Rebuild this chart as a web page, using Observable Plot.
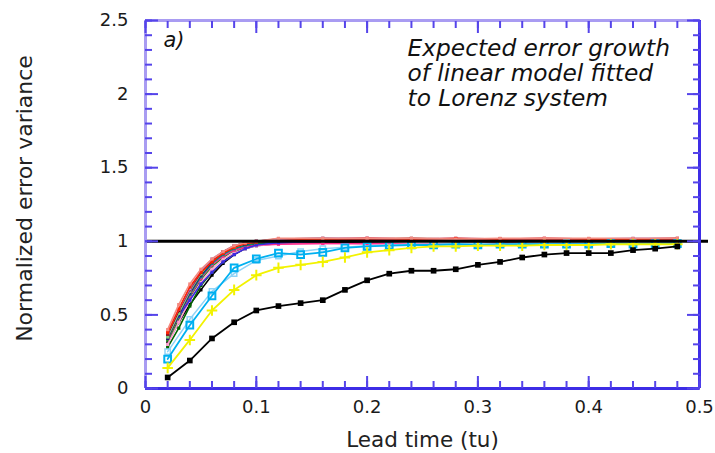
<!DOCTYPE html>
<html><head><meta charset="utf-8">
<script src="https://cdn.jsdelivr.net/npm/d3@7"></script>
<script src="https://cdn.jsdelivr.net/npm/@observablehq/plot@0.6"></script>
<style>body{margin:0;background:#fff;} #chart svg{display:block;}</style>
</head><body><div id="chart"></div>
<script>
// ---------- data ----------
const lead = [0.02,0.04,0.06,0.08,0.10,0.12,0.14,0.16,0.18,0.20,0.22,0.24,0.26,0.28,0.30,0.32,0.34,0.36,0.38,0.40,0.42,0.44,0.46,0.48];
const blackSeries  = [0.075,0.19,0.34,0.45,0.53,0.56,0.58,0.60,0.67,0.735,0.78,0.80,0.80,0.81,0.84,0.86,0.89,0.91,0.92,0.92,0.92,0.94,0.95,0.965];
const yellowSeries = [0.14,0.33,0.53,0.67,0.77,0.82,0.84,0.86,0.89,0.925,0.94,0.955,0.965,0.965,0.97,0.97,0.97,0.975,0.975,0.975,0.98,0.98,0.98,0.98];
const cyanSeries   = [0.20,0.43,0.63,0.82,0.88,0.92,0.91,0.925,0.955,0.965,0.97,0.975,0.975,0.98,0.975,0.98,0.98,0.98,0.98,0.98,0.985,0.98,0.985,0.985];
const skySeries    = [0.25,0.47,0.66,0.78,0.87,0.90,0.93,0.95,0.96,0.97,0.975,0.98,0.98,0.985,0.985,0.98,0.985,0.985,0.99,0.985,0.99,0.99,0.985,0.99];

const bundleLead = [0.02,0.03,0.04,0.05,0.06,0.07,0.08,0.09,0.10,0.12,0.16,0.20,0.24,0.28,0.32,0.36,0.40,0.44,0.48];
const bundleBlack    = [0.31,0.45,0.57,0.67,0.77,0.85,0.91,0.95,0.97,0.985,0.99,0.995,1.0,1.0,0.995,1.0,1.0,1.0,1.0];
const bundleDkGreen  = [0.28,0.41,0.56,0.70,0.79,0.86,0.92,0.96,0.985,0.99,1.0,1.0,1.0,1.0,1.0,1.0,1.0,1.0,1.0];
const bundleGreen    = [0.33,0.47,0.62,0.74,0.83,0.89,0.94,0.97,0.99,1.0,1.0,1.0,1.0,1.0,1.0,1.0,1.0,1.0,1.0];
const bundlePink     = [0.30,0.45,0.60,0.72,0.81,0.88,0.92,0.95,0.97,0.98,0.985,0.98,0.985,0.98,0.985,0.985,0.98,0.985,0.985];
const bundleHotPink  = [0.34,0.49,0.63,0.75,0.84,0.90,0.94,0.96,0.975,0.98,0.985,0.985,0.98,0.985,0.985,0.985,0.985,0.98,0.985];
const bundleBlue     = [0.36,0.49,0.60,0.71,0.79,0.86,0.91,0.95,0.975,0.99,1.0,1.015,1.0,1.0,1.0,1.0,1.0,1.0,1.0];
const bundleTeal     = [0.35,0.50,0.64,0.76,0.85,0.91,0.95,0.975,0.99,1.0,1.01,1.0,1.015,1.0,1.0,1.015,1.0,1.0,1.0];
const bundleNavy     = [0.34,0.50,0.65,0.77,0.86,0.92,0.96,0.98,0.995,1.0,1.0,1.015,1.0,1.015,1.0,1.0,1.015,1.0,1.0];
const bundleBrown    = [0.36,0.52,0.66,0.78,0.87,0.92,0.96,0.985,0.995,1.01,1.015,1.0,1.015,1.0,1.015,1.0,1.0,1.015,1.0];
const bundleLtGreen  = [0.35,0.51,0.66,0.78,0.87,0.93,0.96,0.985,1.0,1.01,1.0,1.0,1.0,1.015,1.0,1.015,1.015,1.0,1.015];
const bundlePurple   = [0.37,0.53,0.67,0.79,0.87,0.93,0.965,0.985,1.0,1.01,1.015,1.02,1.015,1.0,1.015,1.0,1.015,1.015,1.0];
const bundleDkRed    = [0.37,0.53,0.68,0.79,0.87,0.93,0.97,0.99,1.0,1.015,1.02,1.015,1.02,1.015,1.0,1.015,1.0,1.015,1.015];
const bundleLavender = [0.38,0.54,0.68,0.80,0.88,0.93,0.97,0.99,1.0,1.015,1.02,1.02,1.015,1.02,1.015,1.02,1.015,1.02,1.02];
const bundleRed      = [0.38,0.54,0.69,0.79,0.86,0.92,0.96,0.985,0.995,1.005,1.015,1.02,1.015,1.02,1.015,1.02,1.015,1.015,1.02];
const bundleSalmon   = [0.40,0.57,0.71,0.81,0.88,0.93,0.97,0.99,1.0,1.02,1.02,1.02,1.02,1.015,1.02,1.02,1.02,1.02,1.02];

const bundleNames  = ["black","dkgreen","green","pink","hotpink","blue","teal","navy","brown","ltgreen","purple","dkred","lavender","red","salmon"];
const bundleColors = ["#000000","#006400","#1a9a1a","#ff9fd0","#ff2d8c","#3a2ae0","#008b8b","#1c1c70","#8b4a13","#7fd17f","#a0207f","#8b0000","#9d94f0","#ff2200","#f48a80"];
const bundleValues = [bundleBlack,bundleDkGreen,bundleGreen,bundlePink,bundleHotPink,bundleBlue,bundleTeal,bundleNavy,bundleBrown,bundleLtGreen,bundlePurple,bundleDkRed,bundleLavender,bundleRed,bundleSalmon];

const xTickLabels = [0,0.1,0.2,0.3,0.4,0.5];
const xMinorTicks = [0,0.02,0.04,0.06,0.08,0.1,0.12,0.14,0.16,0.18,0.2,0.22,0.24,0.26,0.28,0.3,0.32,0.34,0.36,0.38,0.4,0.42,0.44,0.46,0.48,0.5];
const yTickLabels = [0,0.5,1,1.5,2,2.5];
const yMinorTicks = [0,0.1,0.2,0.3,0.4,0.5,0.6,0.7,0.8,0.9,1,1.1,1.2,1.3,1.4,1.5,1.6,1.7,1.8,1.9,2,2.1,2.2,2.3,2.4,2.5];
const referenceLevel = [1];
const panelLabel = ["a)"];
const annotationLines = ["Expected error growth","of linear model fitted","to Lorenz system"];
const xLabel = "Lead time (tu)";
const yLabel = "Normalized error variance";

// ---------- chart ----------
const rows = (xs, ys) => xs.map((v, i) => ({x: v, y: ys[i]}));
const frameLight = "#a99cf2", frameBlue = "#3d2de6", tickBlue = "#5544ea";
const font = "DejaVu Sans";

const marks = [];
bundleValues.forEach((vals, i) => {
  const r = rows(bundleLead, vals);
  marks.push(Plot.line(r, {x: "x", y: "y", stroke: bundleColors[i], strokeWidth: 1.6}));
  marks.push(Plot.dot(r, {x: "x", y: "y", fill: bundleColors[i], r: 1.8, symbol: "square"}));
});
const sky = rows(lead, skySeries), cyan = rows(lead, cyanSeries), yel = rows(lead, yellowSeries), blk = rows(lead, blackSeries);
marks.push(
  Plot.line(sky, {x: "x", y: "y", stroke: "#8fd3f7", strokeWidth: 1.5}),
  Plot.dot(sky, {x: "x", y: "y", stroke: "#8fd3f7", fill: "none", r: 3, symbol: "square", strokeWidth: 1.5}),
  Plot.line(cyan, {x: "x", y: "y", stroke: "#00b0f0", strokeWidth: 1.8}),
  Plot.dot(cyan, {x: "x", y: "y", stroke: "#00b0f0", fill: "none", r: 3.8, symbol: "square", strokeWidth: 2}),
  Plot.line(yel, {x: "x", y: "y", stroke: "#f2f200", strokeWidth: 1.8}),
  Plot.dot(yel, {x: "x", y: "y", stroke: "#f2f200", r: 3.5, symbol: "plus", strokeWidth: 2}),
  Plot.line(blk, {x: "x", y: "y", stroke: "#000", strokeWidth: 1.8}),
  Plot.dot(blk, {x: "x", y: "y", fill: "#000", r: 3.2, symbol: "square"}),
  Plot.ruleY(referenceLevel, {stroke: "#000", strokeWidth: 3, insetRight: -9})
);

// frame
marks.push(
  Plot.ruleX([0], {stroke: frameLight, strokeWidth: 3}),
  Plot.ruleY([2.5], {stroke: frameLight, strokeWidth: 3}),
  Plot.ruleX([0.5], {stroke: frameBlue, strokeWidth: 3}),
  Plot.ruleY([0], {stroke: frameBlue, strokeWidth: 3})
);

// inward ticks on all sides
const noText = () => "";
for (const anchor of ["left", "right"]) {
  marks.push(Plot.axisY(yMinorTicks, {anchor, tickSize: -7, tickFormat: noText, stroke: tickBlue, strokeWidth: 2, label: null}));
  marks.push(Plot.axisY(yTickLabels, {anchor, tickSize: -13, tickFormat: noText, stroke: tickBlue, strokeWidth: 2, label: null}));
}
for (const anchor of ["top", "bottom"]) {
  marks.push(Plot.axisX(xMinorTicks, {anchor, tickSize: -7, tickFormat: noText, stroke: tickBlue, strokeWidth: 2, label: null}));
  marks.push(Plot.axisX(xTickLabels, {anchor, tickSize: -12, tickFormat: noText, stroke: tickBlue, strokeWidth: 2, label: null}));
}
// tick labels
marks.push(
  Plot.axisY(yTickLabels, {anchor: "left", tickSize: 0, tickPadding: 17, tickFormat: d => `${d}`, fontSize: 18, fill: "#1a1a1a", label: null}),
  Plot.axisX(xTickLabels, {anchor: "bottom", tickSize: 0, tickPadding: 12, tickFormat: d => `${d}`, fontSize: 18, fill: "#1a1a1a", label: null})
);
// labels & annotations
marks.push(
  Plot.text([xLabel], {text: d => d, frameAnchor: "bottom", dy: 43, lineAnchor: "top", textAnchor: "middle", fontSize: 21.5, fill: "#222"}),
  Plot.text([yLabel], {text: d => d, frameAnchor: "left", dx: -121, dy: -6, rotate: -90, lineAnchor: "middle", textAnchor: "middle", fontSize: 22, fill: "#222"}),
  Plot.text(panelLabel, {text: d => d, frameAnchor: "top-left", dx: 18, dy: 12, lineAnchor: "top", textAnchor: "start", fontSize: 21, fontStyle: "italic", fill: "#111"}),
  Plot.text([annotationLines.join("\n")], {text: d => d, frameAnchor: "top-left", dx: 262, dy: 18, lineAnchor: "top", textAnchor: "start", fontSize: 23.3, lineHeight: 1.07, fontStyle: "italic", fill: "#111"})
);

const chart = Plot.plot({
  width: 715, height: 453,
  marginLeft: 145, marginRight: 16, marginTop: 20, marginBottom: 65,
  x: {domain: [0, 0.5]},
  y: {domain: [0, 2.5]},
  style: {fontFamily: font, fontSize: "18px", background: "#fff", overflow: "visible"},
  marks
});
document.getElementById("chart").appendChild(chart);
</script></body></html>
